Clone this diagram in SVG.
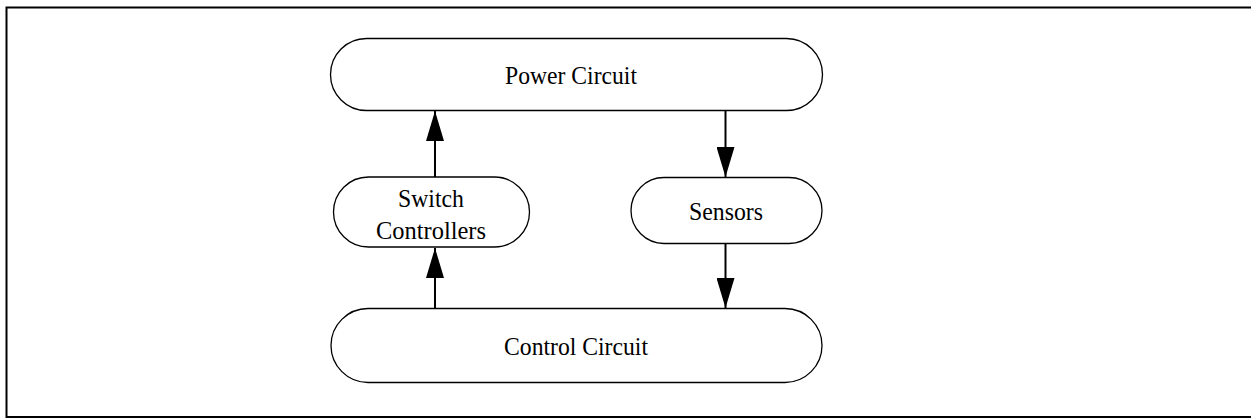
<svg xmlns="http://www.w3.org/2000/svg" width="1251" height="418" viewBox="0 0 1251 418">
<style>
.node{fill:#fff;stroke:#000;stroke-width:1.3}
.lbl{font-family:"Liberation Serif","Times New Roman",serif;font-size:25px;fill:#000;text-anchor:middle}
.edge{stroke:#000;stroke-width:2;fill:none}
</style>
<defs>
<marker id="ah" markerUnits="userSpaceOnUse" markerWidth="30" markerHeight="18" refX="30" refY="9" orient="auto" viewBox="0 0 30 18">
<path d="M0,0 L30,9 L0,18 Z" fill="#000"/>
</marker>
</defs>
<rect x="0" y="0" width="1251" height="418" fill="#fff"/>
<path d="M6.5,418 V7.5 H1251" stroke="#000" stroke-width="2" fill="none"/>
<line x1="6" y1="417" x2="1251" y2="417" stroke="#000" stroke-width="2"/>
<g id="power">
<rect class="node" x="330.5" y="38.5" width="492" height="72" rx="36" ry="36"/>
<text class="lbl" x="571" y="83.5" textLength="132" lengthAdjust="spacingAndGlyphs">Power Circuit</text>
</g>
<g id="switch">
<rect class="node" x="333.5" y="177" width="196" height="70" rx="35" ry="35"/>
<text class="lbl" x="431" y="206.5" textLength="66" lengthAdjust="spacingAndGlyphs">Switch</text>
<text class="lbl" x="431" y="238.5" textLength="110" lengthAdjust="spacingAndGlyphs">Controllers</text>
</g>
<g id="sensors">
<rect class="node" x="631" y="177.5" width="191" height="66" rx="33" ry="33"/>
<text class="lbl" x="726" y="219.5" textLength="74" lengthAdjust="spacingAndGlyphs">Sensors</text>
</g>
<g id="control">
<rect class="node" x="331" y="308.5" width="491" height="74" rx="37" ry="37"/>
<text class="lbl" x="576" y="354.5" textLength="144" lengthAdjust="spacingAndGlyphs">Control Circuit</text>
</g>
<g id="connectors">
<line class="edge" x1="435" y1="177" x2="435" y2="111" marker-end="url(#ah)"/>
<line class="edge" x1="725.5" y1="111" x2="725.5" y2="177" marker-end="url(#ah)"/>
<line class="edge" x1="435" y1="308" x2="435" y2="248" marker-end="url(#ah)"/>
<line class="edge" x1="725.5" y1="243.5" x2="725.5" y2="308" marker-end="url(#ah)"/>
</g>
</svg>
